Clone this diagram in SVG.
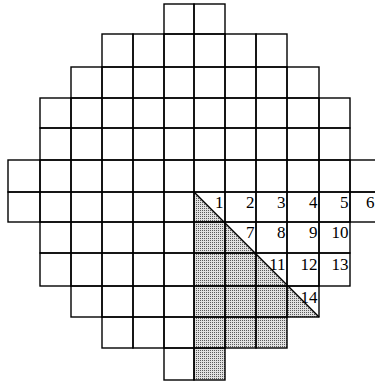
<svg xmlns="http://www.w3.org/2000/svg" width="375" height="385" viewBox="0 0 375 385">
<defs>
<pattern id="dots" x="0" y="0" width="2" height="2" patternUnits="userSpaceOnUse">
<rect width="2" height="2" fill="#e0e0e0"/>
<rect width="1" height="1" fill="#5a5a5a"/>
</pattern>
<style>
.c{fill:none;stroke:#000;stroke-width:1.4}
.n{font-family:"Liberation Serif","Times New Roman",serif;font-size:17px;text-anchor:end;fill:#000}
</style>
</defs>
<rect width="375" height="385" fill="#fff"/>
<g id="shaded">
<polygon points="194,192 319,317 287,317 287,348 225,348 225,380 194,380" fill="url(#dots)"/>
</g>
<g id="grid">
<!-- row 0 -->
<rect class="c" x="164" y="4" width="30" height="30"/><rect class="c" x="194" y="4" width="31" height="30"/>
<!-- row 1 -->
<rect class="c" x="102" y="34" width="31" height="33"/><rect class="c" x="133" y="34" width="31" height="33"/><rect class="c" x="164" y="34" width="30" height="33"/><rect class="c" x="194" y="34" width="31" height="33"/><rect class="c" x="225" y="34" width="31" height="33"/><rect class="c" x="256" y="34" width="31" height="33"/>
<!-- row 2 -->
<rect class="c" x="71" y="67" width="31" height="31"/><rect class="c" x="102" y="67" width="31" height="31"/><rect class="c" x="133" y="67" width="31" height="31"/><rect class="c" x="164" y="67" width="30" height="31"/><rect class="c" x="194" y="67" width="31" height="31"/><rect class="c" x="225" y="67" width="31" height="31"/><rect class="c" x="256" y="67" width="31" height="31"/><rect class="c" x="287" y="67" width="32" height="31"/>
<!-- row 3 -->
<rect class="c" x="40" y="98" width="31" height="30"/><rect class="c" x="71" y="98" width="31" height="30"/><rect class="c" x="102" y="98" width="31" height="30"/><rect class="c" x="133" y="98" width="31" height="30"/><rect class="c" x="164" y="98" width="30" height="30"/><rect class="c" x="194" y="98" width="31" height="30"/><rect class="c" x="225" y="98" width="31" height="30"/><rect class="c" x="256" y="98" width="31" height="30"/><rect class="c" x="287" y="98" width="32" height="30"/><rect class="c" x="319" y="98" width="31" height="30"/>
<!-- row 4 -->
<rect class="c" x="40" y="128" width="31" height="32"/><rect class="c" x="71" y="128" width="31" height="32"/><rect class="c" x="102" y="128" width="31" height="32"/><rect class="c" x="133" y="128" width="31" height="32"/><rect class="c" x="164" y="128" width="30" height="32"/><rect class="c" x="194" y="128" width="31" height="32"/><rect class="c" x="225" y="128" width="31" height="32"/><rect class="c" x="256" y="128" width="31" height="32"/><rect class="c" x="287" y="128" width="32" height="32"/><rect class="c" x="319" y="128" width="31" height="32"/>
<!-- row 5 -->
<rect class="c" x="8" y="160" width="32" height="32"/><rect class="c" x="40" y="160" width="31" height="32"/><rect class="c" x="71" y="160" width="31" height="32"/><rect class="c" x="102" y="160" width="31" height="32"/><rect class="c" x="133" y="160" width="31" height="32"/><rect class="c" x="164" y="160" width="30" height="32"/><rect class="c" x="194" y="160" width="31" height="32"/><rect class="c" x="225" y="160" width="31" height="32"/><rect class="c" x="256" y="160" width="31" height="32"/><rect class="c" x="287" y="160" width="32" height="32"/><rect class="c" x="319" y="160" width="31" height="32"/><rect class="c" x="350" y="160" width="31" height="32"/>
<!-- row 6 -->
<rect class="c" x="8" y="192" width="32" height="30"/><rect class="c" x="40" y="192" width="31" height="30"/><rect class="c" x="71" y="192" width="31" height="30"/><rect class="c" x="102" y="192" width="31" height="30"/><rect class="c" x="133" y="192" width="31" height="30"/><rect class="c" x="164" y="192" width="30" height="30"/><rect class="c" x="194" y="192" width="31" height="30"/><rect class="c" x="225" y="192" width="31" height="30"/><rect class="c" x="256" y="192" width="31" height="30"/><rect class="c" x="287" y="192" width="32" height="30"/><rect class="c" x="319" y="192" width="31" height="30"/><rect class="c" x="350" y="192" width="31" height="30"/>
<!-- row 7 -->
<rect class="c" x="40" y="222" width="31" height="31"/><rect class="c" x="71" y="222" width="31" height="31"/><rect class="c" x="102" y="222" width="31" height="31"/><rect class="c" x="133" y="222" width="31" height="31"/><rect class="c" x="164" y="222" width="30" height="31"/><rect class="c" x="194" y="222" width="31" height="31"/><rect class="c" x="225" y="222" width="31" height="31"/><rect class="c" x="256" y="222" width="31" height="31"/><rect class="c" x="287" y="222" width="32" height="31"/><rect class="c" x="319" y="222" width="31" height="31"/>
<!-- row 8 -->
<rect class="c" x="40" y="253" width="31" height="33"/><rect class="c" x="71" y="253" width="31" height="33"/><rect class="c" x="102" y="253" width="31" height="33"/><rect class="c" x="133" y="253" width="31" height="33"/><rect class="c" x="164" y="253" width="30" height="33"/><rect class="c" x="194" y="253" width="31" height="33"/><rect class="c" x="225" y="253" width="31" height="33"/><rect class="c" x="256" y="253" width="31" height="33"/><rect class="c" x="287" y="253" width="32" height="33"/><rect class="c" x="319" y="253" width="31" height="33"/>
<!-- row 9 -->
<rect class="c" x="71" y="286" width="31" height="31"/><rect class="c" x="102" y="286" width="31" height="31"/><rect class="c" x="133" y="286" width="31" height="31"/><rect class="c" x="164" y="286" width="30" height="31"/><rect class="c" x="194" y="286" width="31" height="31"/><rect class="c" x="225" y="286" width="31" height="31"/><rect class="c" x="256" y="286" width="31" height="31"/><rect class="c" x="287" y="286" width="32" height="31"/>
<!-- row 10 -->
<rect class="c" x="102" y="317" width="31" height="31"/><rect class="c" x="133" y="317" width="31" height="31"/><rect class="c" x="164" y="317" width="30" height="31"/><rect class="c" x="194" y="317" width="31" height="31"/><rect class="c" x="225" y="317" width="31" height="31"/><rect class="c" x="256" y="317" width="31" height="31"/>
<!-- row 11 -->
<rect class="c" x="164" y="348" width="30" height="32"/><rect class="c" x="194" y="348" width="31" height="32"/>
<line x1="194" y1="192" x2="319" y2="317" stroke="#000" stroke-width="1.4"/>
</g>
<g id="labels">
<text class="n" x="223.5" y="208">1</text>
<text class="n" x="254.5" y="208">2</text>
<text class="n" x="285.5" y="208">3</text>
<text class="n" x="317.5" y="208">4</text>
<text class="n" x="348.5" y="208">5</text>
<text class="n" x="374.5" y="208">6</text>
<text class="n" x="254.5" y="238">7</text>
<text class="n" x="285.5" y="238">8</text>
<text class="n" x="317.5" y="238">9</text>
<text class="n" x="348.5" y="238">10</text>
<text class="n" x="285.5" y="270">11</text>
<text class="n" x="317.5" y="270">12</text>
<text class="n" x="348.5" y="270">13</text>
<text class="n" x="317.5" y="303">14</text>
</g>
</svg>
